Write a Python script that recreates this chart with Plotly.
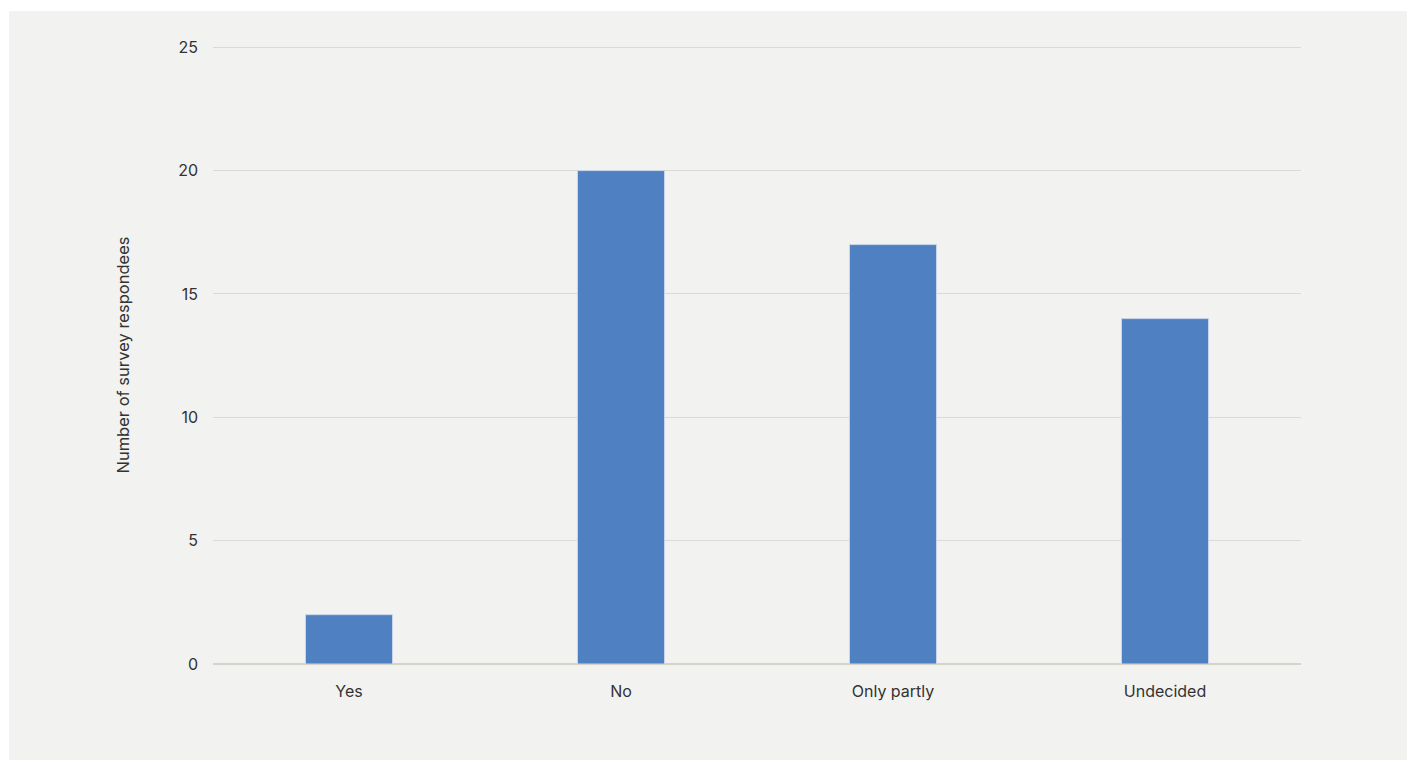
import plotly.graph_objects as go

categories = ["Yes", "No", "Only partly", "Undecided"]
respondees = [2, 20, 17, 14]
y_ticks = [0, 5, 10, 15, 20, 25]

W, H = 1407, 760
ml, mr, mt, mb = 213, 106, 46, 96
pw, ph = W - ml - mr, H - mt - mb

fig = go.Figure(go.Bar(
    x=categories, y=respondees,
    marker=dict(color="#4f80c2", line=dict(color="#c9d6e8", width=1)),
    width=0.32,
))

fig.update_layout(
    width=W, height=H,
    margin=dict(l=ml, r=mr, t=mt, b=mb, pad=0),
    paper_bgcolor="#ffffff",
    plot_bgcolor="rgba(0,0,0,0)",
    font=dict(family="Inter, Open Sans, sans-serif", color="#333333", size=16),
    showlegend=False,
    shapes=[dict(
        type="rect", xref="paper", yref="paper", layer="below",
        x0=(9 - ml) / pw, x1=(W - ml) / pw + 0.01,
        y0=-(mb + 5) / ph, y1=1 + (mt - 11) / ph,
        fillcolor="#f2f2f0", line=dict(width=0),
    )],
)
fig.update_xaxes(showgrid=False, showline=False, ticks="", ticklabelstandoff=16,
                 tickfont=dict(size=16))
fig.update_yaxes(range=[0, 25.05], tickvals=y_ticks, showgrid=True, gridcolor="#dadad7",
                 gridwidth=1, zeroline=True, zerolinecolor="#d4d4cc", zerolinewidth=2,
                 ticks="", ticklabelstandoff=14, tickfont=dict(size=16),
                 title=dict(text="Number of survey respondees", font=dict(size=16.5), standoff=44))

fig.write_html("out.html")
